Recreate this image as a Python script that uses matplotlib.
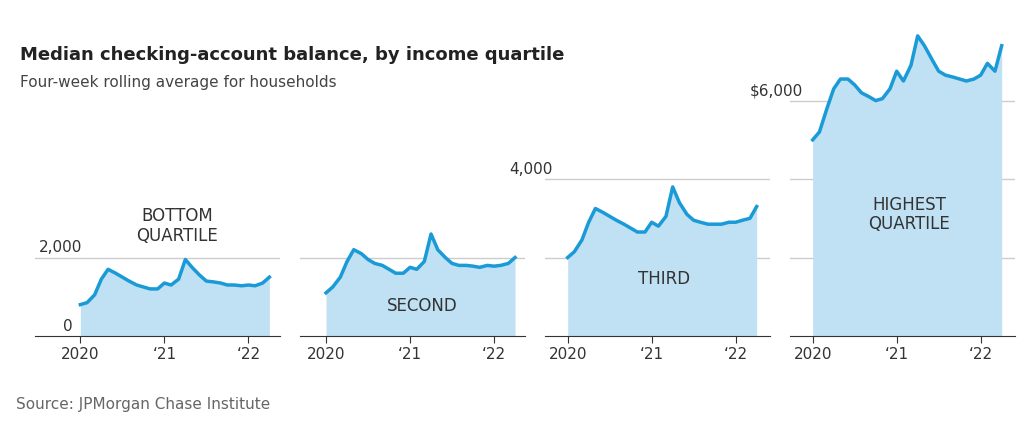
import matplotlib
matplotlib.use("Agg")
import matplotlib.pyplot as plt
import numpy as np

months = np.array([2020.0,2020.08,2020.17,2020.25,2020.33,2020.42,2020.5,2020.58,2020.67,2020.75,2020.83,2020.92,
                   2021.0,2021.08,2021.17,2021.25,2021.33,2021.42,2021.5,2021.58,2021.67,2021.75,2021.83,2021.92,
                   2022.0,2022.08,2022.17,2022.25])
bottom = [800,850,1050,1450,1700,1600,1500,1400,1300,1250,1200,1200,1350,1300,1450,1950,1750,1550,1400,1380,1350,1300,1300,1280,1300,1280,1350,1500]
second = [1100,1250,1500,1900,2200,2100,1950,1850,1800,1700,1600,1600,1750,1700,1900,2600,2200,2000,1850,1800,1800,1780,1750,1800,1780,1800,1850,2000]
third  = [2000,2150,2450,2900,3250,3150,3050,2950,2850,2750,2650,2650,2900,2800,3050,3800,3400,3100,2950,2900,2850,2850,2850,2900,2900,2950,3000,3300]
highest= [5000,5200,5800,6300,6550,6550,6400,6200,6100,6000,6050,6300,6750,6500,6900,7650,7400,7050,6750,6650,6600,6550,6500,6550,6650,6950,6750,7400]
series = [bottom, second, third, highest]
labels = ["BOTTOM\nQUARTILE", "SECOND", "THIRD", "HIGHEST\nQUARTILE"]
label_pos = [(2021.15, 2800), (2021.15, 760), (2021.15, 1450), (2021.15, 3100)]
grids = [[2000], [2000], [2000, 4000], [2000, 4000, 6000]]
tick_pos = [2020, 2021, 2022]
tick_lab = ["2020", "\u201821", "\u201822"]

W, H = 1024, 424
fig = plt.figure(figsize=(W/100, H/100), dpi=100)
panels = [(35, 280, 2019.46), (300, 525, 2019.69), (545, 770, 2019.73), (790, 1015, 2019.73)]
ytop, ybot = 30, 336
line_c, fill_c = "#1a9ad6", "#bfe1f3"
for i, (x0, x1, tl) in enumerate(panels):
    ax = fig.add_axes([x0/W, 1-ybot/H, (x1-x0)/W, (ybot-ytop)/H])
    tr = tl + (x1-x0)/84
    ax.set_xlim(tl, tr)
    ax.set_ylim(0, 7800)
    for g in grids[i]:
        ax.axhline(g, color="#cccccc", lw=1, zorder=0)
    ax.fill_between(months, series[i], color=fill_c, lw=0, zorder=1)
    ax.plot(months, series[i], color=line_c, lw=2.5, zorder=2)
    ax.text(*label_pos[i], labels[i], ha="center", va="center", fontsize=12, color="#333333", linespacing=1.1)
    for s in ["top", "right", "left"]:
        ax.spines[s].set_visible(False)
    ax.spines["bottom"].set_color("#333333")
    ax.set_yticks([])
    ax.set_xticks(tick_pos)
    ax.set_xticklabels(tick_lab, fontsize=11, color="#333333")
    ax.tick_params(axis="x", length=5, color="#333333", pad=3)
    if i == 0:
        ax.text(tl+0.05, 2000+60, "2,000", fontsize=11, color="#333333", va="bottom")
        ax.text(tl+0.33, 60, "0", fontsize=11, color="#333333", va="bottom")
    if i == 2:
        ax.text(2019.3, 4000+60, "4,000", fontsize=11, color="#333333", va="bottom", clip_on=False)
    if i == 3:
        ax.text(2019.25, 6000+60, "$6,000", fontsize=11, color="#333333", va="bottom", clip_on=False)

fig.text(20/W, 1-55/H, "Median checking-account balance, by income quartile", fontsize=13, fontweight="bold", color="#222222", va="center")
fig.text(20/W, 1-82/H, "Four-week rolling average for households", fontsize=11, color="#444444", va="center")
fig.text(16/W, 1-405/H, "Source: JPMorgan Chase Institute", fontsize=11, color="#666666", va="center")
fig.savefig("out.png", dpi=100)
